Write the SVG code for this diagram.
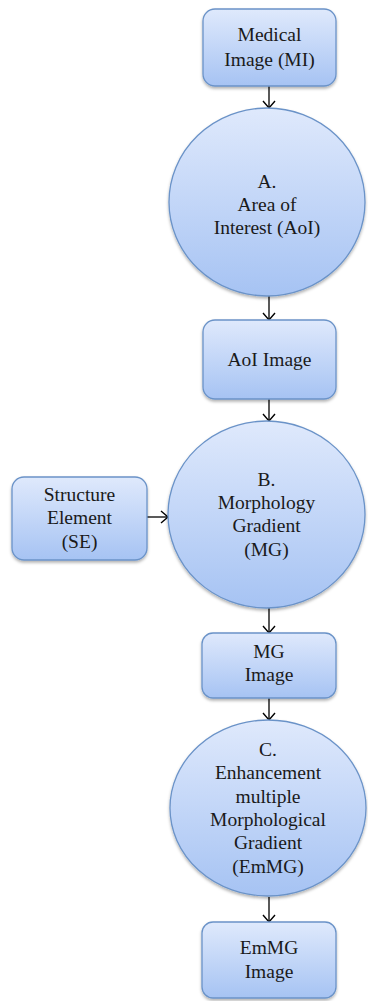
<svg xmlns="http://www.w3.org/2000/svg" width="368" height="1001" viewBox="0 0 368 1001">
<defs>
<linearGradient id="g" x1="0" y1="0" x2="0" y2="1">
<stop offset="0" stop-color="#dfe9fc"/>
<stop offset="1" stop-color="#a6c3f3"/>
</linearGradient>
<filter id="sh" x="-10%" y="-10%" width="120%" height="125%">
<feDropShadow dx="0" dy="2" stdDeviation="1.5" flood-color="#000" flood-opacity="0.3"/>
</filter>
<marker id="ar" markerWidth="14" markerHeight="14" refX="12" refY="7" orient="auto" markerUnits="userSpaceOnUse">
<path d="M5,1 L12,7 L5,13" fill="none" stroke="#000" stroke-width="1.4"/>
</marker>
</defs>
<style>
.n{fill:url(#g);stroke:#6b93c8;stroke-width:1.3;filter:url(#sh)}
.t{font-family:'Liberation Serif','Times New Roman',serif;font-size:19.5px;fill:#1a1a1a;text-anchor:middle}
.c{stroke:#000;stroke-width:1.3;fill:none;marker-end:url(#ar)}
</style>
<g id="connectors">
<line class="c" x1="269" y1="86" x2="269" y2="108"/>
<line class="c" x1="269" y1="296" x2="269" y2="320"/>
<line class="c" x1="269" y1="399" x2="269" y2="421"/>
<line class="c" x1="147" y1="517" x2="168" y2="517"/>
<line class="c" x1="269" y1="608" x2="269" y2="633"/>
<line class="c" x1="269" y1="698" x2="269" y2="720"/>
<line class="c" x1="269" y1="897" x2="269" y2="922"/>
</g>
<g id="mi">
<rect class="n" x="203" y="9" width="133" height="77" rx="12"/>
<text class="t" x="269.5" y="41">Medical</text>
<text class="t" x="269.5" y="66">Image (MI)</text>
</g>
<g id="aoi">
<ellipse class="n" cx="267" cy="202" rx="98" ry="94"/>
<text class="t" x="267" y="188">A.</text>
<text class="t" x="267" y="211">Area of</text>
<text class="t" x="267" y="234">Interest (AoI)</text>
</g>
<g id="aoiimg">
<rect class="n" x="203" y="320" width="133" height="79" rx="12"/>
<text class="t" x="269.5" y="366">AoI Image</text>
</g>
<g id="se">
<rect class="n" x="12" y="477" width="135" height="83" rx="12"/>
<text class="t" x="79.5" y="501">Structure</text>
<text class="t" x="79.5" y="524">Element</text>
<text class="t" x="79.5" y="548">(SE)</text>
</g>
<g id="mg">
<ellipse class="n" cx="266.5" cy="514.5" rx="98.5" ry="93.5"/>
<text class="t" x="266.5" y="486">B.</text>
<text class="t" x="266.5" y="509">Morphology</text>
<text class="t" x="266.5" y="532">Gradient</text>
<text class="t" x="266.5" y="556">(MG)</text>
</g>
<g id="mgimg">
<rect class="n" x="202" y="633" width="134" height="65" rx="11"/>
<text class="t" x="269" y="658">MG</text>
<text class="t" x="269" y="681">Image</text>
</g>
<g id="emmg">
<ellipse class="n" cx="268" cy="808" rx="98" ry="88"/>
<text class="t" x="268" y="756">C.</text>
<text class="t" x="268" y="779">Enhancement</text>
<text class="t" x="268" y="803">multiple</text>
<text class="t" x="268" y="826">Morphological</text>
<text class="t" x="268" y="849">Gradient</text>
<text class="t" x="268" y="873">(EmMG)</text>
</g>
<g id="emmgimg">
<rect class="n" x="202" y="922" width="134" height="76" rx="11"/>
<text class="t" x="269" y="954">EmMG</text>
<text class="t" x="269" y="978">Image</text>
</g>
</svg>
